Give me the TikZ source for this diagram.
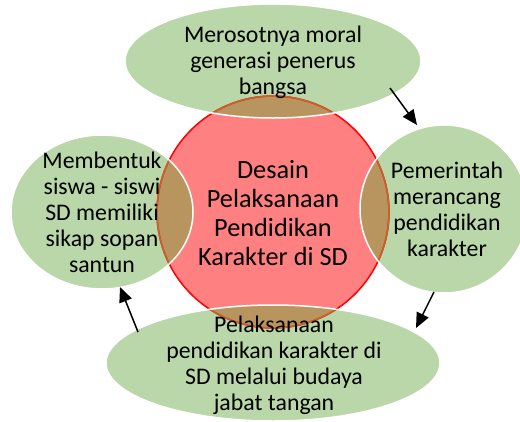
\documentclass[tikz,border=0pt]{standalone}
\usepackage{fontspec}
\setmainfont{Carlito}
\usetikzlibrary{arrows.meta}
\definecolor{gfill}{HTML}{B9D7A8}
\definecolor{rfill}{HTML}{FF8080}
\definecolor{rline}{HTML}{FF0000}
\definecolor{bfill}{HTML}{B8955F}
\definecolor{bedge}{HTML}{C4642C}
\tikzset{
  outertext/.style={align=center,font=\fontsize{23.8}{26}\selectfont,inner sep=0pt},
  centertext/.style={align=center,font=\fontsize{26.3}{29}\selectfont,inner sep=0pt},
  cyclearrow/.style={line width=1.5pt,-{Triangle[length=15pt,width=13pt]}},
  ellfill/.style={fill=gfill},
  ellborder/.style={draw=white,line width=1.5pt}
}
\begin{document}
\begin{tikzpicture}[x=1pt,y=-1pt]
\useasboundingbox (0,0) rectangle (520,421);
% centres
\coordinate (cc) at (273,212);
\coordinate (ct) at (273,61);
\coordinate (cr) at (444,209);
\coordinate (cl) at (102,212);
\coordinate (cb) at (273,363);
% central circle
\fill[rfill] (cc) circle[radius=116pt];
% green ellipses
\fill[gfill] (ct) ellipse[x radius=148pt,y radius=57pt];
\fill[gfill] (cr) ellipse[x radius=84pt,y radius=84pt];
\fill[gfill] (cl) ellipse[x radius=91pt,y radius=77pt];
\fill[gfill] (cb) ellipse[x radius=167pt,y radius=58pt];
% overlaps
\begin{scope}
  \clip (cc) circle[radius=116pt];
  \fill[bfill] (ct) ellipse[x radius=148pt,y radius=57pt];
  \fill[bfill] (cr) ellipse[x radius=84pt,y radius=84pt];
  \fill[bfill] (cl) ellipse[x radius=91pt,y radius=77pt];
  \fill[bfill] (cb) ellipse[x radius=167pt,y radius=58pt];
\end{scope}
% circle border
\draw[rline,line width=1.5pt] (cc) circle[radius=116pt];
\begin{scope}
  \clip (ct) ellipse[x radius=148pt,y radius=57pt]
        (cr) ellipse[x radius=84pt,y radius=84pt]
        (cl) ellipse[x radius=91pt,y radius=77pt]
        (cb) ellipse[x radius=167pt,y radius=58pt];
  \draw[bedge,line width=1.5pt] (cc) circle[radius=116pt];
\end{scope}
% white ellipse borders
\draw[ellborder] (ct) ellipse[x radius=148pt,y radius=57pt];
\draw[ellborder] (cr) ellipse[x radius=84pt,y radius=84pt];
\draw[ellborder] (cl) ellipse[x radius=91pt,y radius=77pt];
\draw[ellborder] (cb) ellipse[x radius=167pt,y radius=58pt];
% texts
\node[centertext] (tc) at (273,213) {Desain\\Pelaksanaan\\Pendidikan\\Karakter di SD};
\node[outertext] (tt) at (273,62) {Merosotnya moral\\generasi penerus\\bangsa};
\node[outertext] (tr) at (447,209) {Pemerintah\\merancang\\pendidikan\\karakter};
\node[outertext] (tl) at (102,212) {Membentuk\\siswa - siswi\\SD memiliki\\sikap sopan\\santun};
\node[outertext] (tb) at (274,365) {Pelaksanaan\\pendidikan karakter di\\SD melalui budaya\\jabat tangan};
% arrows
\coordinate (a1s) at (390,88);  \coordinate (a1e) at (417,125);
\coordinate (a2s) at (434,292); \coordinate (a2e) at (416,328);
\coordinate (a3s) at (138,332); \coordinate (a3e) at (120,287);
\draw[cyclearrow] (a1s) -- (a1e);
\draw[cyclearrow] (a2s) -- (a2e);
\draw[cyclearrow] (a3s) -- (a3e);
\end{tikzpicture}
\end{document}
